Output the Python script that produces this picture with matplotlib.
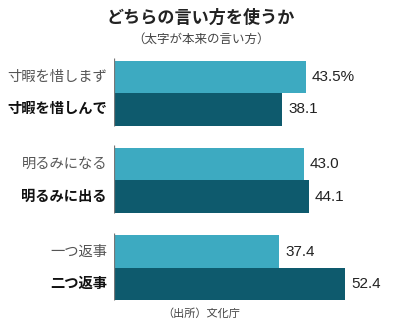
import matplotlib
matplotlib.use("Agg")
import matplotlib.pyplot as plt

plt.rcParams['font.family'] = ['Noto Sans CJK JP', 'DejaVu Sans']

# Survey results: share of respondents using each expression (%)
pairs = ["寸暇", "明るみ", "返事"]
alt_labels = ["寸暇を惜しまず", "明るみになる", "一つ返事"]
orig_labels = ["寸暇を惜しんで", "明るみに出る", "二つ返事"]
alt_values = [43.5, 43.0, 37.4]
orig_values = [38.1, 44.1, 52.4]
value_texts_alt = ["43.5%", "43.0", "37.4"]
value_texts_orig = ["38.1", "44.1", "52.4"]

title = "どちらの言い方を使うか"
subtitle = "（太字が本来の言い方）"
source = "（出所）文化庁"

light = "#3DAAC1"
dark = "#0E5A6D"
num_font = ["Liberation Sans", "DejaVu Sans"]

W, H = 403, 329
fig = plt.figure(figsize=(W / 100, H / 100), dpi=100)
fig.patch.set_facecolor("white")

# axes: left edge at the value axis, spanning the bar area
ax_left, ax_top, ax_bottom = 114, 58, 302
ax = fig.add_axes([ax_left / W, (H - ax_bottom) / H, (W - ax_left) / W, (ax_bottom - ax_top) / H])
px_per_unit = 4.414
ax.set_xlim(0, (W - ax_left) / px_per_unit)
ax.set_ylim(6.46, -1.09)
ax.axis("off")

stride = 2.7
for g in range(len(pairs)):
    c = g * stride
    y_alt, y_orig = c - 0.5, c + 0.5
    ax.barh(y_alt, alt_values[g], height=1.0, color=light, edgecolor="none")
    ax.barh(y_orig, orig_values[g], height=1.0, color=dark, edgecolor="none")
    ax.vlines(0, c - 1.09, c + 1.0, color="#777777", linewidth=0.9)
    ax.annotate(value_texts_alt[g], (alt_values[g], y_alt), xytext=(6, 0),
                textcoords="offset pixels", va="center", ha="left",
                fontsize=11, color="#222222", family=num_font)
    ax.annotate(value_texts_orig[g], (orig_values[g], y_orig), xytext=(6, 0),
                textcoords="offset pixels", va="center", ha="left",
                fontsize=11, color="#222222", family=num_font)
    ax.annotate(alt_labels[g], (0, y_alt), xytext=(-7, 0),
                textcoords="offset pixels", va="center", ha="right",
                fontsize=10.3, color="#555555")
    ax.annotate(orig_labels[g], (0, y_orig), xytext=(-7, 0),
                textcoords="offset pixels", va="center", ha="right",
                fontsize=10.3, color="#111111", fontweight="bold")

fig.text(201 / W, 1 - 18 / H, title, ha="center", va="center",
         fontsize=12.3, fontweight="bold", color="#222222")
fig.text(201 / W, 1 - 39 / H, subtitle, ha="center", va="center",
         fontsize=9, color="#444444")
fig.text(201 / W, 1 - 314 / H, source, ha="center", va="center",
         fontsize=8, color="#444444")

fig.savefig("out.png", dpi=100, facecolor="white")
